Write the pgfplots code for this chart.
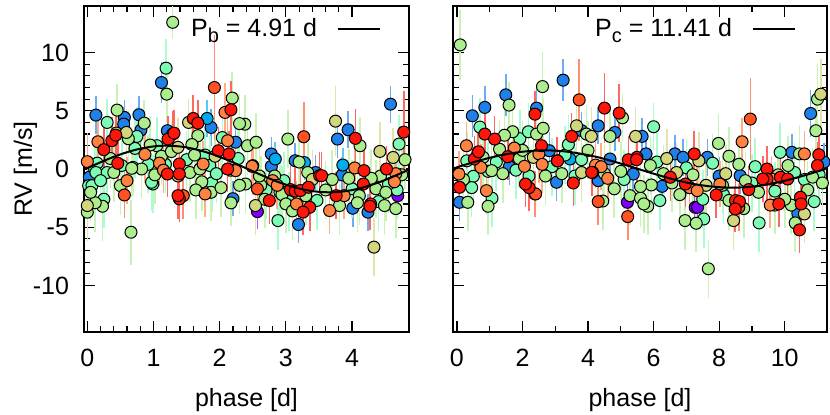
\documentclass[border=0pt]{standalone}
\usepackage{fontspec}
\setmainfont{Liberation Sans}
\usepackage{pgfplots}
\usepackage{pgfplotstable}
\pgfplotsset{compat=1.18}

% rainbow palette, one colour per group
\definecolor{c1}{RGB}{128,0,255}
\definecolor{c2}{RGB}{30,128,232}
\definecolor{c3}{RGB}{0,172,240}
\definecolor{c4}{RGB}{125,252,180}
\definecolor{c5}{RGB}{172,238,142}
\definecolor{c6}{RGB}{210,215,125}
\definecolor{c7}{RGB}{255,130,65}
\definecolor{c8}{RGB}{255,82,32}
\definecolor{c9}{RGB}{255,22,10}
\colorlet{e1}{c1!65!white}\colorlet{e2}{c2!65!white}\colorlet{e3}{c3!65!white}
\colorlet{e4}{c4!65!white}\colorlet{e5}{c5!65!white}\colorlet{e6}{c6!65!white}
\colorlet{e7}{c7!65!white}\colorlet{e8}{c8!65!white}\colorlet{e9}{c9!65!white}

% planet b, phase-folded
\pgfplotstableread{
x y e c
1.29 12.6 1.4 5
1.19 8.66 2.5 4
1.12 7.43 1.8 2
1.20 6.43 2.5 5
0.13 4.63 1.6 2
0.45 5.06 2.2 5
0.30 4.00 2.0 4
0.56 4.43 1.5 2
0.55 3.86 1.5 2
0.78 4.66 1.6 2
0.81 3.34 1.5 2
0.86 3.94 2.0 5
0.59 3.14 2.0 6
0.44 3.09 2.5 5
0.16 2.34 2.5 7
0.25 1.66 2.0 9
0.37 2.43 2.0 9
0.43 2.91 2.5 9
0.46 0.49 2.0 9
0.00 0.63 2.5 7
0.11 0.00 2.5 4
0.69 0.14 2.5 5
0.82 0.00 2.5 5
0.87 1.26 2.5 7
0.99 -1.29 2.5 4
1.21 -0.43 2.0 9
1.29 3.00 2.0 9
1.39 0.43 2.0 9
1.39 -0.43 2.0 9
1.39 -2.57 2.0 9
1.53 4.00 2.0 6
1.60 4.34 2.0 9
1.67 3.94 2.0 9
1.67 2.86 2.5 5
1.81 4.34 1.6 3
1.87 3.57 1.6 2
1.92 7.00 4.5 8
2.08 4.86 2.5 7
2.17 5.09 2.5 9
2.19 6.09 2.2 5
2.38 3.85 2.5 5
1.98 1.57 2.0 9
2.14 1.29 2.0 9
2.12 2.43 2.0 7
2.12 0.00 2.0 9
2.24 -0.14 2.0 7
2.50 0.29 2.5 7
1.75 0.43 2.0 7
1.78 -2.14 2.0 7
2.17 -2.91 2.0 5
2.20 -2.55 1.5 2
2.78 1.29 1.5 2
2.84 0.86 1.5 3
2.78 0.23 1.5 2
3.03 2.57 2.5 5
3.14 0.71 1.5 2
3.27 2.77 3.0 8
3.20 0.60 2.5 5
3.51 -0.57 2.0 9
3.45 -0.30 1.5 2
2.49 0.23 2.0 7
2.39 -1.29 2.5 5
2.57 -1.71 2.0 8
2.62 -1.40 2.5 5
2.70 -1.80 2.5 4
2.94 -2.20 2.5 5
3.07 -1.77 2.0 9
3.14 -1.90 2.0 9
3.22 -1.85 2.0 9
3.34 -1.57 2.0 9
3.16 -3.00 2.0 7
3.36 -3.29 2.0 9
3.26 -3.70 2.0 9
2.75 -2.71 2.0 9
2.54 -3.14 2.5 6
2.57 -3.66 1.5 1
3.00 -3.00 2.5 5
3.10 -3.60 2.5 5
2.88 -4.43 2.5 4
3.19 -4.77 1.6 2
4.58 5.57 1.6 2
3.75 4.11 3.0 6
3.94 3.37 1.6 2
3.78 2.57 1.6 2
4.05 2.63 2.5 9
4.12 2.00 2.5 5
4.42 1.51 2.5 6
4.62 0.99 2.5 6
4.71 2.14 2.5 4
4.78 3.17 3.5 9
3.86 0.34 1.5 3
3.85 -0.51 1.5 2
4.04 0.09 2.5 7
4.18 -0.14 2.0 9
4.17 -1.29 2.0 9
4.52 0.00 2.0 9
4.66 -0.40 2.0 7
4.64 -1.10 2.0 7
3.54 -0.57 2.0 9
3.60 -1.80 2.5 5
3.76 -2.29 2.0 9
3.88 -2.29 2.0 7
4.00 -1.70 2.5 4
4.11 -2.29 2.5 5
4.28 -3.00 2.0 9
4.27 -3.20 2.0 9
4.24 -3.71 1.6 2
4.01 -3.37 1.6 2
3.66 -3.57 2.0 7
3.81 -3.14 2.5 5
4.49 -3.14 2.5 5
4.66 -3.40 2.5 5
4.69 -2.29 1.5 1
4.33 -6.71 2.5 6
4.36 -1.70 2.5 5
4.51 -2.00 2.5 5
4.68 -1.80 2.5 4
4.43 -0.60 2.5 5
4.29 -0.80 2.5 5
0.00 -3.71 2.5 5
0.00 -3.14 2.5 6
0.23 -3.20 3.0 5
0.66 -5.43 2.8 5
0.12 -2.90 2.5 5
0.02 -1.43 2.5 4
0.07 -1.43 2.5 4
0.50 -1.43 2.5 5
0.60 -1.00 2.0 7
0.56 -2.23 2.0 8
0.67 0.06 2.5 5
0.72 1.77 2.5 4
0.95 2.06 2.5 5
1.05 2.00 2.5 4
1.09 0.51 2.0 7
0.97 -1.14 2.5 4
1.15 -0.10 2.0 7
1.12 1.10 2.5 5
0.15 0.50 2.5 4
0.13 -0.30 2.5 4
0.30 -0.30 2.5 4
0.40 -0.30 2.5 5
0.03 -0.70 1.5 2
1.22 2.57 2.0 9
1.21 3.29 1.5 2
1.31 3.08 2.0 9
1.37 1.86 2.5 6
1.58 2.10 2.5 5
1.62 1.20 2.5 5
1.78 1.20 2.5 4
1.93 1.10 2.5 6
1.85 0.30 2.5 4
1.37 -0.60 2.5 6
1.37 -2.29 2.0 9
1.45 -2.29 2.0 8
1.73 -1.10 2.5 5
1.88 -1.20 2.5 4
1.64 -1.80 2.5 5
1.87 -2.00 2.5 5
2.17 -0.10 2.5 5
2.30 -1.40 2.5 5
2.04 2.70 2.5 4
2.24 2.30 1.5 2
2.30 3.90 2.5 5
2.42 2.00 2.5 5
2.55 2.30 2.5 5
2.83 -0.60 2.5 5
2.80 -1.00 2.0 7
2.87 -1.40 2.0 7
2.91 -2.00 2.5 4
3.28 0.55 1.5 3
3.33 -0.30 2.5 5
3.40 -0.90 2.5 6
0.05 -2.00 2.5 5
0.20 -1.00 2.5 4
0.35 0.90 2.5 5
0.52 0.30 2.5 4
0.62 2.60 2.5 5
0.75 2.80 2.5 4
0.92 0.40 2.5 4
1.02 -0.50 2.5 5
1.18 0.40 2.5 4
1.27 1.50 2.5 5
1.50 0.80 2.5 4
1.55 -0.30 2.5 5
1.70 0.00 2.5 5
1.95 -0.40 2.5 4
2.02 -1.60 2.5 5
2.28 0.90 2.5 4
2.60 -0.60 2.5 5
2.68 -2.60 2.5 5
2.97 -1.00 2.5 4
3.05 -2.80 2.5 4
3.30 -2.30 2.5 5
3.47 -2.70 2.5 4
3.70 -0.90 2.5 5
3.95 -0.80 2.5 5
4.08 -2.90 2.5 5
4.40 -2.80 2.5 4
4.55 -1.30 2.5 4
4.75 -0.50 2.5 5
4.80 0.80 2.5 5
0.25 -2.60 2.5 4
}\leftdata

% planet c, phase-folded
\pgfplotstableread{
x y e c
0.10 10.66 3.0 5
3.24 7.63 1.8 2
1.49 6.37 1.8 2
1.59 5.49 2.0 5
0.85 5.29 1.8 2
0.47 4.57 1.8 2
2.61 7.08 3.0 5
2.43 5.23 1.8 2
2.38 4.71 2.0 9
3.73 5.94 3.5 8
4.50 5.23 3.0 9
4.95 4.80 2.5 9
5.05 4.40 2.0 5
6.00 3.63 2.0 4
4.31 3.71 1.6 2
3.65 3.71 2.5 6
3.50 2.80 2.0 9
3.80 3.30 1.6 2
3.95 3.00 2.5 5
4.10 2.80 2.5 6
4.82 3.14 1.6 2
4.67 2.80 2.5 5
0.70 3.60 2.5 4
0.85 3.00 2.0 9
1.15 2.57 2.0 9
0.64 1.43 2.0 9
0.29 2.00 2.0 7
1.70 3.20 2.5 5
1.45 2.90 2.5 5
1.92 2.60 2.5 4
2.18 3.20 2.5 4
2.43 3.00 2.5 5
2.63 3.50 2.5 5
2.58 2.00 2.0 9
2.82 1.57 1.6 2
3.06 0.71 2.0 9
3.45 0.86 1.6 3
2.50 1.30 2.5 7
2.33 1.00 2.5 6
5.45 2.80 2.5 6
5.65 2.80 1.6 2
5.49 1.00 2.0 9
5.77 1.30 1.6 2
6.40 0.90 2.5 6
6.65 1.30 1.6 2
6.90 1.00 1.6 2
7.24 1.29 2.0 9
7.38 0.70 2.5 6
7.64 1.00 1.6 2
7.98 2.20 2.5 5
8.30 1.10 2.5 5
8.95 4.29 3.5 8
8.70 2.34 2.0 7
9.86 1.43 2.5 4
10.22 1.43 1.6 2
10.45 1.30 2.5 5
10.60 1.30 2.0 7
11.04 1.23 2.0 9
10.79 4.77 2.0 2
11.00 6.00 3.0 5
11.10 6.43 3.0 6
10.95 3.29 2.5 5
11.20 0.60 1.6 2
11.00 0.30 2.0 9
9.46 0.00 2.0 9
9.87 -0.71 2.0 9
9.10 0.20 2.5 4
9.46 -0.86 2.0 9
10.30 -0.30 2.5 4
8.64 -0.57 1.6 2
8.90 -1.77 2.0 9
8.50 -2.71 2.0 9
8.62 -2.80 2.0 9
8.10 -1.40 2.5 5
7.91 -2.23 2.0 9
7.27 -3.29 1.5 1
5.20 -2.86 1.5 1
6.56 -1.20 2.5 5
7.10 -1.60 2.5 5
0.08 -1.57 2.0 9
0.08 -2.86 1.6 2
0.33 -2.86 2.5 5
0.06 -0.43 2.0 7
0.50 -0.63 2.5 4
0.95 -0.20 2.5 4
0.90 -1.86 2.0 7
1.07 -2.51 2.5 4
0.95 -3.20 2.5 5
2.20 -1.60 2.0 9
2.38 -2.14 2.0 8
3.04 -1.14 1.6 2
3.55 -1.20 2.0 9
4.31 -1.00 1.6 2
4.14 -0.29 2.0 9
4.60 -0.80 2.0 7
4.67 0.86 1.6 2
5.23 0.80 2.0 9
5.38 -0.43 1.6 2
4.31 -2.80 2.0 8
4.45 -2.75 2.5 5
5.28 -2.29 2.5 5
5.21 -4.09 2.0 8
5.82 -3.20 2.5 5
5.60 -2.50 2.5 5
5.70 -3.00 2.5 5
6.19 -2.71 2.5 4
5.93 -1.37 2.5 5
6.26 -1.49 1.6 2
6.97 -1.29 2.0 9
7.10 -1.60 2.0 7
7.33 -1.86 2.0 7
7.60 -1.40 2.5 6
8.02 -1.29 2.0 7
8.13 -2.20 2.5 4
6.96 -4.43 2.5 5
7.30 -4.66 2.5 5
7.53 -4.29 2.5 4
7.67 -8.57 2.5 5
7.34 -3.29 1.5 1
8.44 -4.43 2.5 6
8.49 -3.43 2.0 9
8.60 -3.30 2.0 8
8.75 -3.40 2.5 5
9.22 -4.63 2.5 4
9.56 -3.10 2.0 7
9.70 -3.10 2.5 5
10.32 -4.63 2.5 5
10.45 -5.23 2.0 9
10.40 -3.80 1.6 2
10.60 -3.86 2.5 6
10.48 -2.43 2.0 9
10.50 -3.00 2.0 9
10.20 -3.10 2.5 5
9.82 -3.00 2.0 9
10.00 -2.60 2.5 5
9.33 -0.86 2.0 9
10.09 -0.86 2.0 9
9.60 -0.86 2.0 7
9.80 -0.50 2.5 6
10.60 -0.90 2.5 4
10.85 -0.70 2.5 5
11.05 -0.50 2.5 4
8.60 0.40 2.5 5
8.80 -1.00 2.5 5
0.30 0.70 2.5 4
0.53 0.86 2.0 9
0.66 1.48 2.0 9
1.06 -0.14 2.5 5
0.73 0.14 2.0 7
1.55 1.06 2.0 9
1.75 1.80 2.0 7
1.30 1.70 2.5 5
2.06 0.23 2.0 7
2.09 -1.29 2.0 9
2.40 -2.14 2.0 8
2.20 -0.60 2.5 4
2.60 0.40 2.5 7
1.60 0.20 1.6 2
1.90 0.90 2.5 5
3.07 0.69 2.0 9
3.30 1.20 2.5 4
3.80 0.80 2.5 4
4.23 0.34 2.0 7
4.40 0.20 2.0 7
4.11 -0.29 2.0 9
3.80 -0.30 2.5 6
4.50 -0.40 2.5 5
5.00 -0.20 2.5 5
5.48 0.80 2.0 9
5.90 0.30 2.5 5
6.30 -0.40 2.5 5
6.51 -0.71 2.0 9
7.00 0.10 2.5 4
7.80 0.50 2.5 4
8.00 -0.60 1.6 2
0.20 -0.90 2.5 5
0.45 -1.60 2.5 4
0.80 1.00 2.5 5
1.20 0.60 2.5 4
1.40 -0.40 2.5 5
1.80 -0.10 2.5 4
2.00 1.60 2.5 5
2.70 -0.60 2.5 5
2.90 0.20 2.5 4
3.20 -0.40 2.5 5
3.40 2.10 2.5 4
3.60 -0.60 2.5 4
4.00 1.60 2.5 5
4.80 -1.70 2.5 5
5.10 -0.90 2.5 4
5.60 -1.50 2.5 5
6.10 0.60 2.5 4
6.70 -0.30 2.5 6
6.80 -2.20 2.5 5
7.20 -0.50 2.5 5
7.50 -2.60 2.5 4
8.20 -0.40 2.5 6
8.30 -2.70 2.5 5
9.00 -1.20 2.5 4
9.20 -2.00 2.5 5
9.70 -1.90 2.5 4
10.10 0.30 2.5 5
10.70 -1.80 2.5 5
10.90 -2.80 2.5 4
11.15 -1.20 2.5 5
}\rightdata

\newcommand{\lblfont}{\fontsize{12.5}{15}\selectfont}
\newcommand{\sub}[1]{\raisebox{-0.45ex}{\fontsize{10}{12}\selectfont #1}}

\pgfplotsset{rvpanel/.style={
  scale only axis, height=163pt, ymin=-14, ymax=14,
  ytick={-10,-5,0,5,10}, minor y tick num=4,
  tick align=inside, major tick length=5.5pt, minor tick length=2.8pt,
  axis line style={line width=1pt}, tick style={line width=0.6pt,black},
  ticklabel style={font=\lblfont}, label style={font=\lblfont},
  /pgf/number format/assume math mode=true,
  xticklabel style={yshift=-5pt}, yticklabel style={xshift=-4pt},
  xlabel={phase [d]}, xlabel shift=4pt, ylabel shift=-9pt,
  clip=false, clip marker paths=true,
  legend style={draw=none, fill=none, inner sep=0pt, font=\lblfont, anchor=east},
  legend cell align=right, legend plot pos=right,
  legend image code/.code={\path (0pt,0pt); \draw[line width=1pt] (8pt,0pt) -- (29pt,0pt);}},
  errs/.style={draw=none, mark=none, forget plot,
  error bars/.cd, y dir=both, y explicit, error mark=none,
  error bar style={draw=e#1, line width=0.8pt}},
  dots/.style={only marks, mark=*, mark size=3pt, forget plot,
  mark options={fill=c#1, draw=black, line width=0.5pt}}}

\begin{document}
\begin{tikzpicture}
\begin{axis}[rvpanel, at={(42pt,41pt)}, anchor=south west, width=162.5pt,
  xmin=-0.05, xmax=4.86, xtick={0,1,2,3,4}, minor x tick num=4,
  ylabel={RV [m/s]}, legend style={at={(0.915,0.93)}}]
\pgfplotsinvokeforeach{1,...,9}{
  \addplot[restrict expr to domain={\thisrow{c}}{#1:#1}, errs=#1]
    table[x=x, y=y, y error=e] {\leftdata};}
\pgfplotsinvokeforeach{1,...,9}{
  \addplot[restrict expr to domain={\thisrow{c}}{#1:#1}, dots=#1]
    table[x=x, y=y] {\leftdata};}
\addplot[black, line width=1pt, smooth] coordinates {
(-0.05,-0.05) (0.1,0.33) (0.25,0.70) (0.4,1.05) (0.55,1.35) (0.7,1.61)
(0.85,1.80) (1.0,1.94) (1.15,2.00) (1.3,1.98) (1.45,1.90) (1.6,1.74)
(1.75,1.52) (1.9,1.25) (2.05,0.93) (2.2,0.57) (2.35,0.19) (2.5,-0.19)
(2.65,-0.57) (2.8,-0.93) (2.95,-1.25) (3.1,-1.52) (3.25,-1.74) (3.4,-1.90)
(3.55,-1.98) (3.7,-2.00) (3.85,-1.94) (4.0,-1.81) (4.15,-1.61) (4.3,-1.35)
(4.45,-1.05) (4.6,-0.70) (4.75,-0.33) (4.86,-0.05)};
\addlegendentry{P\sub{b} = 4.91 d}
\end{axis}

\begin{axis}[rvpanel, at={(226.5pt,41pt)}, anchor=south west, width=187pt,
  xmin=-0.12, xmax=11.29, xtick={0,2,4,6,8,10}, minor x tick num=1,
  yticklabels={}, legend style={at={(0.918,0.93)}}]
\pgfplotsinvokeforeach{1,...,9}{
  \addplot[restrict expr to domain={\thisrow{c}}{#1:#1}, errs=#1]
    table[x=x, y=y, y error=e] {\rightdata};}
\pgfplotsinvokeforeach{1,...,9}{
  \addplot[restrict expr to domain={\thisrow{c}}{#1:#1}, dots=#1]
    table[x=x, y=y] {\rightdata};}
\addplot[black, line width=1pt, smooth] coordinates {
(-0.12,0.04) (0.3,0.41) (0.7,0.74) (1.1,1.03) (1.5,1.27) (1.9,1.45)
(2.3,1.56) (2.7,1.60) (3.1,1.56) (3.5,1.44) (3.9,1.25) (4.3,1.01)
(4.7,0.71) (5.1,0.38) (5.5,0.03) (5.9,-0.32) (6.3,-0.65) (6.7,-0.96)
(7.1,-1.22) (7.5,-1.41) (7.9,-1.54) (8.3,-1.60) (8.7,-1.58) (9.1,-1.48)
(9.5,-1.31) (9.9,-1.08) (10.3,-0.79) (10.7,-0.47) (11.1,-0.12) (11.29,0.05)};
\addlegendentry{P\sub{c} = 11.41 d}
\end{axis}
\pgfresetboundingbox
\path[use as bounding box] (0,0) rectangle (415pt,207pt);
\end{tikzpicture}
\end{document}
